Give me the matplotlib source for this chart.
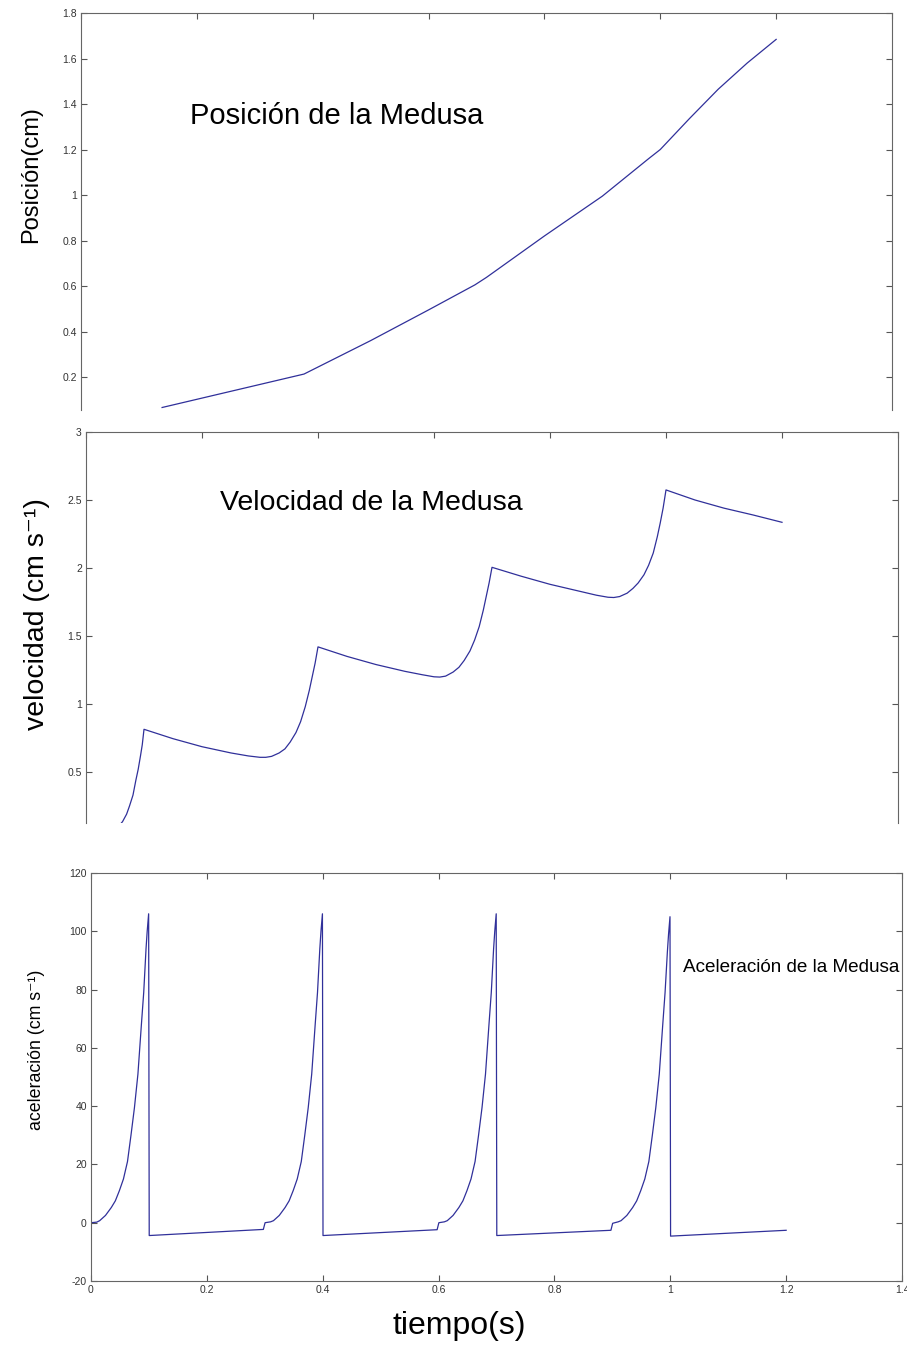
import matplotlib
matplotlib.use("Agg")
import matplotlib.pyplot as plt
from matplotlib.ticker import FormatStrFormatter

# ---- data ----
t_pos = [0.14, 0.25, 0.385, 0.5, 0.6, 0.68, 0.70, 0.8, 0.9, 0.98, 1.0, 1.05, 1.1, 1.15, 1.2]
posicion = [0.066, 0.132, 0.213, 0.36, 0.495, 0.605, 0.638, 0.82, 0.995, 1.16, 1.2, 1.335, 1.465, 1.58, 1.684]

t_vel = [0.0, 0.02, 0.035, 0.05, 0.063, 0.07, 0.075, 0.081, 0.086, 0.09, 0.094, 0.097, 0.1,
         0.15, 0.2, 0.25, 0.28, 0.3, 0.31,
         0.32, 0.333, 0.343, 0.352, 0.362, 0.37, 0.378, 0.385, 0.39, 0.395, 0.4,
         0.45, 0.5, 0.55, 0.58, 0.6, 0.61,
         0.62, 0.633, 0.643, 0.652, 0.662, 0.67, 0.678, 0.685, 0.69, 0.695, 0.7,
         0.75, 0.8, 0.85, 0.88, 0.9, 0.91,
         0.92, 0.933, 0.943, 0.952, 0.962, 0.97, 0.978, 0.985, 0.99, 0.995, 1.0,
         1.05, 1.1, 1.15, 1.2]
velocidad = [0.0, 0.01, 0.03, 0.07, 0.135, 0.19, 0.25, 0.33, 0.44, 0.52, 0.62, 0.70, 0.814,
             0.745, 0.686, 0.64, 0.618, 0.608, 0.608,
             0.615, 0.64, 0.67, 0.72, 0.79, 0.87, 0.98, 1.10, 1.20, 1.30, 1.42,
             1.35, 1.29, 1.24, 1.215, 1.20, 1.198,
             1.205, 1.235, 1.27, 1.32, 1.39, 1.47, 1.57, 1.69, 1.79, 1.89, 2.005,
             1.94, 1.88, 1.83, 1.80, 1.785, 1.783,
             1.79, 1.815, 1.85, 1.89, 1.95, 2.02, 2.11, 2.23, 2.33, 2.44, 2.574,
             2.50, 2.44, 2.39, 2.336]

t_acel = [0.0, 0.01, 0.015, 0.025, 0.035, 0.042, 0.049, 0.056, 0.063, 0.069, 0.075, 0.081,
          0.087, 0.091, 0.095, 0.097, 0.0995, 0.1, 0.1005,
          0.2975, 0.3005, 0.31, 0.315, 0.325, 0.335, 0.342, 0.349, 0.356, 0.363, 0.369, 0.375, 0.381,
          0.387, 0.391, 0.395, 0.397, 0.3995, 0.4, 0.4005,
          0.5975, 0.6005, 0.61, 0.615, 0.625, 0.635, 0.642, 0.649, 0.656, 0.663, 0.669, 0.675, 0.681,
          0.687, 0.691, 0.695, 0.697, 0.6995, 0.7, 0.7005,
          0.8975, 0.9005, 0.91, 0.915, 0.925, 0.935, 0.942, 0.949, 0.956, 0.963, 0.969, 0.975, 0.981,
          0.987, 0.991, 0.995, 0.997, 0.9995, 1.0, 1.0005,
          1.2]
aceleracion = [0.0, 0.2, 0.7, 2.5, 5.2, 7.5, 11, 15, 21, 30, 39.5, 51,
               68, 79, 94, 100, 106, 51, -4.4,
               -2.3, 0.0, 0.3, 0.7, 2.5, 5.2, 7.5, 11, 15, 21, 30, 39.5, 51,
               68, 79, 94, 100, 106, 51, -4.4,
               -2.4, 0.0, 0.3, 0.7, 2.5, 5.2, 7.5, 11, 15, 21, 30, 39.5, 51,
               68, 79, 94, 100, 106, 51, -4.4,
               -2.6, -0.2, 0.3, 0.7, 2.5, 5.2, 7.5, 11, 15, 21, 30, 39.5, 51,
               68, 79, 93, 99, 105, 51, -4.6,
               -2.6]

pos_ticks = [0.2, 0.4, 0.6, 0.8, 1.0, 1.2, 1.4, 1.6, 1.8]
vel_ticks = [0.5, 1.0, 1.5, 2.0, 2.5, 3.0]
acel_ticks = [-20, 0, 20, 40, 60, 80, 100, 120]
t_ticks = [0, 0.2, 0.4, 0.6, 0.8, 1.0, 1.2, 1.4]

W, H = 907, 1347
LINE = "#30309a"
FONT = ["Liberation Sans", "DejaVu Sans"]


def box(l, t, r, b):
    return [l / W, 1 - b / H, (r - l) / W, (b - t) / H]


def style(ax, yticks, ylim, bottom=True):
    ax.set_xlim(0, 1.4)
    ax.set_ylim(*ylim)
    ax.set_xticks(t_ticks)
    ax.set_yticks(yticks)
    ax.yaxis.set_major_formatter(FormatStrFormatter("%g"))
    ax.xaxis.set_major_formatter(FormatStrFormatter("%g"))
    ax.tick_params(direction="in", length=4.5, width=0.8, color="#555555",
                   labelcolor="#333333", labelsize=7.5, pad=3,
                   top=True, right=True, bottom=bottom, labelbottom=bottom)
    for lab in ax.get_xticklabels() + ax.get_yticklabels():
        lab.set_family(FONT)
    for s in ax.spines.values():
        s.set_color("#666666")
        s.set_linewidth(0.8)
    if not bottom:
        ax.spines["bottom"].set_visible(False)


fig = plt.figure(figsize=(W / 100, H / 100), dpi=100)

ax1 = fig.add_axes(box(81, 13, 892, 410))
ax1.plot(t_pos, posicion, color=LINE, lw=0.9)
style(ax1, pos_ticks, (0.055, 1.8), bottom=False)

ax2 = fig.add_axes(box(86, 432, 898, 823))
ax2.plot(t_vel, velocidad, color=LINE, lw=0.9)
style(ax2, vel_ticks, (0.125, 3.0), bottom=False)

ax3 = fig.add_axes(box(91, 873, 902, 1281))
ax3.plot(t_acel, aceleracion, color=LINE, lw=0.9)
style(ax3, acel_ticks, (-20, 120))


def ftext(x, y, s, **kw):
    fig.text(x / W, 1 - y / H, s, family=FONT, **kw)


ftext(190, 116, "Posición de la Medusa", fontsize=21, ha="left", va="center")
ftext(220, 503, "Velocidad de la Medusa", fontsize=20.5, ha="left", va="center")
ftext(683, 967, "Aceleración de la Medusa", fontsize=13.6, ha="left", va="center")
ftext(459, 1326, "tiempo(s)", fontsize=23, ha="center", va="center")

ftext(31, 175, "Posición(cm)", fontsize=17, rotation=90, ha="center", va="center")
ftext(37, 614, "velocidad (cm s⁻¹)", fontsize=20.5, rotation=90, ha="center", va="center")
ftext(37, 1050, "aceleración (cm s⁻¹)", fontsize=12.8, rotation=90, ha="center", va="center")

fig.savefig("out.png", dpi=100, facecolor="white")
